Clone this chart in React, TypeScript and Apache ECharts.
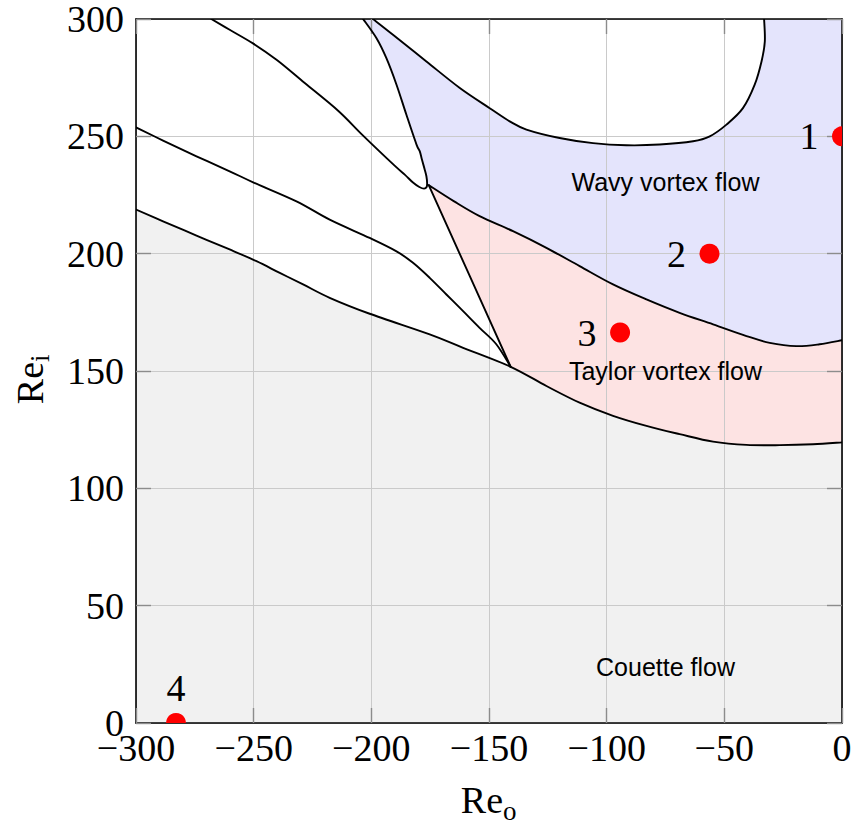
import React, { useEffect, useRef } from "react";
import * as echarts from "echarts";

type Pt = [number, number];

// Axis ranges and ticks
const reoMin = -300;
const reoMax = 0;
const reiMin = 0;
const reiMax = 300;
const tickStep = 50;

// Shared corner points of the flow-regime boundaries
const junction: Pt = [-175.6, 229.2];
const triplePoint: Pt = [-140.8, 151.8];

// Onset of Taylor vortices (Couette flow below)
const couetteBoundary: Pt[] = [
  [-300, 218.8], [-288.5, 213.8], [-274.3, 207.7], [-260.2, 201.8], [-248.8, 196.8],
  [-238.9, 191.8], [-229, 186.9], [-217.7, 181.2], [-200.7, 174.4], [-175.2, 165.6],
  [-161, 159.9], triplePoint, [-125.6, 143.6], [-111.5, 136.5], [-97.3, 130.9],
  [-83.1, 126.6], [-69, 123.1], [-54.8, 119.9], [-40.6, 118.5], [-26.5, 118.4],
  [-12.3, 118.8], [0, 119.6],
];

// Transition from Taylor vortices to wavy vortices
const wavyBoundary: Pt[] = [
  junction, [-165, 222.4], [-154, 216], [-139.8, 209.6], [-125.6, 202.5], [-111.5, 194.7],
  [-97.3, 186.9], [-83.1, 180.5], [-69, 174.8], [-54.8, 169.9], [-40.6, 164.9],
  [-30.7, 162], [-19.4, 160.6], [-9.5, 161.4], [0, 163.1],
];

// Straight left edge of the Taylor vortex regime
const taylorEdge: Pt[] = [junction, triplePoint];

// Secondary branch ending in the triple point
const secondaryBranch: Pt[] = [
  [-300, 253.8], [-288.5, 248.2], [-274.3, 241.5], [-260.2, 235.1], [-250, 230.3],
  [-231.8, 222.3], [-217.7, 214.5], [-200.7, 206.7], [-189.3, 201], [-182.3, 196.1],
  [-175.2, 189.7], [-168.1, 182.6], [-161, 175.5], [-154, 168.4], [-146.9, 161.4],
  triplePoint,
];

// Folded branch: descending limb, then the limb bounding the wavy regime
const foldDescending: Pt[] = [
  [-268, 300], [-260.2, 295.4], [-250.3, 289.6], [-240, 282.4], [-228.3, 272.7],
  [-214, 260.8], [-203.5, 250.3], [-190.1, 237.5], [-185.8, 233.7], [-182.3, 230.3],
  [-179.6, 228.4],
];
const foldAscending: Pt[] = [
  [-177.6, 227.7], [-176.5, 228.4], [-176.3, 230.1], [-176.6, 233], [-177.3, 235.8],
  [-178.5, 240.1], [-179.4, 243.6], [-180.8, 246.5], [-185.1, 259.2], [-189.3, 272],
  [-193.6, 283.3], [-197.8, 291.8], [-203.5, 300],
];
const foldBranch: Pt[] = foldDescending.concat(foldAscending);

// Upper closed-off region inside the wavy regime
const upperPocket: Pt[] = [
  [-199.3, 300], [-190.8, 293.3], [-176.6, 281.9], [-162.4, 270.6], [-149.7, 262],
  [-141.2, 256.4], [-134.1, 252.9], [-120, 249.3], [-105.8, 247.1], [-91.6, 246.2],
  [-77.5, 246.5], [-63.3, 247.9], [-56.2, 250], [-49.1, 255], [-42.1, 262],
  [-37.1, 272], [-34.2, 281.9], [-32.8, 290.4], [-33.1, 300],
];

// Regime names
const regionNames = ["Wavy vortex flow", "Taylor vortex flow", "Couette flow"];
const regionReo = [-75, -75, -75];
const regionRei = [230.6, 150.2, 24];

// Marked operating points
const pointNames = ["1", "2", "3", "4"];
const pointReo = [0, -56.3, -94.3, -283];
const pointRei = [250, 200, 166.4, 0];
const pointLabelSide = ["left", "left", "left", "top"];

const serif = '"Liberation Serif", "Times New Roman", serif';
const sans = '"Liberation Sans", Arial, sans-serif';

const fmt = (p: number[]) => `${p[0].toFixed(2)},${p[1].toFixed(2)}`;

// Catmull-Rom control points for every segment of a pixel polyline
function controlPoints(p: number[][]) {
  const n = p.length;
  const out: number[][][] = [];
  for (let i = 0; i < n - 1; i++) {
    const a = p[Math.max(i - 1, 0)];
    const b = p[i];
    const c = p[i + 1];
    const d = p[Math.min(i + 2, n - 1)];
    out.push([
      [b[0] + (c[0] - a[0]) / 6, b[1] + (c[1] - a[1]) / 6],
      [c[0] - (d[0] - b[0]) / 6, c[1] - (d[1] - b[1]) / 6],
    ]);
  }
  return out;
}

// Smooth path through p from index i0 to i1 (either direction)
function trace(p: number[][], i0: number, i1: number, cmd: "M" | "L") {
  const cp = controlPoints(p);
  let d = `${cmd}${fmt(p[i0])}`;
  if (i0 < i1) {
    for (let i = i0; i < i1; i++) d += `C${fmt(cp[i][0])} ${fmt(cp[i][1])} ${fmt(p[i + 1])}`;
  } else {
    for (let i = i0; i > i1; i--) d += `C${fmt(cp[i - 1][1])} ${fmt(cp[i - 1][0])} ${fmt(p[i - 1])}`;
  }
  return d;
}

const negFormatter = (v: number) => (v < 0 ? "\u2212" + Math.abs(v) : String(v));

const axisLineStyle = { onZero: false, lineStyle: { color: "#000", width: 1.6 } };
const tickStyle = { inside: true, length: 15, lineStyle: { color: "#8c8c8c", width: 1.4 } };
const gridLineStyle = { show: true, lineStyle: { color: "#cacaca", width: 1 } };

function buildOption() {
  return {
    animation: false,
    backgroundColor: "#fff",
    grid: { left: 136, top: 18, width: 706, height: 705, show: false },
    xAxis: [
      {
        type: "value", position: "bottom", min: reoMin, max: reoMax, interval: tickStep, z: 3,
        axisLine: axisLineStyle, axisTick: tickStyle, splitLine: gridLineStyle,
        axisLabel: { color: "#000", fontFamily: serif, fontSize: 38, margin: 6, formatter: negFormatter },
      },
      {
        type: "value", position: "top", min: reoMin, max: reoMax, interval: tickStep, z: 3,
        axisLine: axisLineStyle, axisTick: tickStyle, splitLine: { show: false },
        axisLabel: { show: false },
      },
    ],
    yAxis: [
      {
        type: "value", position: "left", min: reiMin, max: reiMax, interval: tickStep, z: 3,
        axisLine: axisLineStyle, axisTick: tickStyle, splitLine: gridLineStyle,
        axisLabel: { color: "#000", fontFamily: serif, fontSize: 38, margin: 12 },
      },
      {
        type: "value", position: "right", min: reiMin, max: reiMax, interval: tickStep, z: 3,
        axisLine: axisLineStyle, axisTick: tickStyle, splitLine: { show: false },
        axisLabel: { show: false },
      },
    ],
    graphic: [
      {
        type: "group", x: 30, y: 370, rotation: Math.PI / 2,
        children: [
          { type: "text", x: 8, y: 0, style: { text: "Re", fill: "#000", fontFamily: serif, fontSize: 38, align: "right", textAlign: "right", verticalAlign: "middle", textVerticalAlign: "middle" } },
          { type: "text", x: 8, y: 10, style: { text: "i", fill: "#000", fontFamily: serif, fontSize: 27, align: "left", textAlign: "left", verticalAlign: "middle", textVerticalAlign: "middle" } },
        ],
      },
      { type: "text", x: 503, y: 800, style: { text: "Re", fill: "#000", fontFamily: serif, fontSize: 38, align: "right", textAlign: "right", verticalAlign: "middle", textVerticalAlign: "middle" } },
      { type: "text", x: 503, y: 811, style: { text: "o", fill: "#000", fontFamily: serif, fontSize: 27, align: "left", textAlign: "left", verticalAlign: "middle", textVerticalAlign: "middle" } },
    ],
    series: [
      {
        // Filled flow regimes
        type: "custom", coordinateSystem: "cartesian2d", z: 1, clip: true, silent: true,
        data: [[-150, 150]],
        renderItem: (_params: any, api: any) => {
          const px = (pts: Pt[]) => pts.map((p) => api.coord(p));
          const couette = px(couetteBoundary);
          const wavy = px(wavyBoundary);
          const fold = px(foldBranch);
          const pocket = px(upperPocket);
          const nC = couette.length;
          const kP = couetteBoundary.indexOf(triplePoint);
          const origin = api.coord([reoMax, reiMin]);
          const left = api.coord([reoMin, reiMin]);
          const topRight = api.coord([reoMax, reiMax]);
          const grey = trace(couette, 0, nC - 1, "M") + `L${fmt(origin)}L${fmt(left)}Z`;
          const pink = trace(couette, kP, nC - 1, "M") + trace(wavy, wavy.length - 1, 0, "L") + "Z";
          const lavender =
            trace(fold, fold.length - 1, foldDescending.length, "M") +
            trace(wavy, 0, wavy.length - 1, "L") +
            `L${fmt(topRight)}` +
            trace(pocket, pocket.length - 1, 0, "L") + "Z";
          return {
            type: "group",
            children: [
              { type: "path", shape: { pathData: grey }, style: { fill: "#f1f1f1", stroke: null } },
              { type: "path", shape: { pathData: pink }, style: { fill: "#fde3e3", stroke: null } },
              { type: "path", shape: { pathData: lavender }, style: { fill: "#e4e4fc", stroke: null } },
            ],
          };
        },
      },
      {
        // Regime boundaries
        type: "custom", coordinateSystem: "cartesian2d", z: 5, clip: true, silent: true,
        data: [[-150, 150]],
        renderItem: (_params: any, api: any) => {
          const curves = [couetteBoundary, wavyBoundary, taylorEdge, secondaryBranch, foldBranch, upperPocket];
          return {
            type: "group",
            children: curves.map((c) => {
              const p = c.map((q) => api.coord(q));
              return {
                type: "path",
                shape: { pathData: trace(p, 0, p.length - 1, "M") },
                style: { fill: null, stroke: "#000", lineWidth: 1.9, lineJoin: "round", lineCap: "round" },
              };
            }),
          };
        },
      },
      {
        // Regime names
        type: "custom", coordinateSystem: "cartesian2d", z: 6, silent: true,
        data: regionNames.map((_, i) => [regionReo[i], regionRei[i]]),
        renderItem: (params: any, api: any) => {
          const c = api.coord([api.value(0), api.value(1)]);
          return {
            type: "text", x: c[0], y: c[1],
            style: {
              text: regionNames[params.dataIndex], fill: "#000", fontFamily: sans, fontSize: 25,
              align: "center", textAlign: "center", verticalAlign: "middle", textVerticalAlign: "middle",
            },
          };
        },
      },
      {
        // Operating points
        type: "custom", coordinateSystem: "cartesian2d", z: 7, clip: true, silent: true,
        data: pointNames.map((_, i) => [pointReo[i], pointRei[i]]),
        renderItem: (params: any, api: any) => {
          const c = api.coord([api.value(0), api.value(1)]);
          const side = pointLabelSide[params.dataIndex];
          const lx = side === "left" ? c[0] - 33 : c[0];
          const ly = side === "left" ? c[1] : c[1] - 35;
          return {
            type: "group",
            children: [
              { type: "circle", shape: { cx: c[0], cy: c[1], r: 10 }, style: { fill: "#ff0000", stroke: null } },
              {
                type: "text", x: lx, y: ly,
                style: {
                  text: pointNames[params.dataIndex], fill: "#000", fontFamily: serif, fontSize: 38,
                  align: "center", textAlign: "center", verticalAlign: "middle", textVerticalAlign: "middle",
                },
              },
            ],
          };
        },
      },
    ],
  };
}

export default function App() {
  const ref = useRef<HTMLDivElement>(null);
  useEffect(() => {
    if (!ref.current) return;
    const chart = echarts.init(ref.current, null, { renderer: "svg" });
    chart.setOption(buildOption() as any);
    return () => chart.dispose();
  }, []);
  return (
    <div
      ref={ref}
      style={{ position: "fixed", left: 0, top: 0, width: 856, height: 829, background: "#fff" }}
    />
  );
}
